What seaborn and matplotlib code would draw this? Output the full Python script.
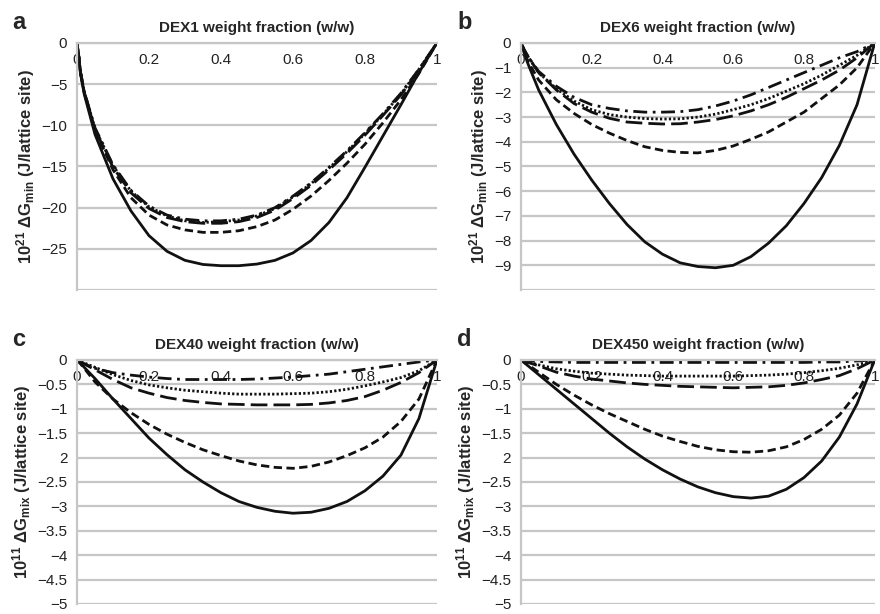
import matplotlib
matplotlib.use("Agg")
import matplotlib.pyplot as plt
import seaborn as sns
import pandas as pd

# weight fraction grid shared by every curve
W = [0, 0.01, 0.02, 0.05, 0.1, 0.15, 0.2, 0.25, 0.3, 0.35, 0.4, 0.45, 0.5,
     0.55, 0.6, 0.65, 0.7, 0.75, 0.8, 0.85, 0.9, 0.95, 1.0]

CURVES = ["solid", "dashed", "longdash", "dotted", "dashdot"]

# panel a - DEX1 (10^21 J/lattice site)
a_solid = [0, -3.8, -6.2, -11.1, -16.5, -20.4, -23.4, -25.3, -26.4, -26.9, -27.05, -27.05,
           -26.85, -26.4, -25.5, -24.0, -21.8, -18.8, -15.1, -11.3, -7.5, -3.6, 0]
a_dashed = [0, -3.7, -6.0, -10.6, -15.4, -18.8, -20.9, -22.1, -22.7, -23.0, -23.0, -22.8,
            -22.3, -21.5, -20.2, -18.6, -16.7, -14.6, -12.3, -9.7, -6.9, -3.7, 0]
a_longdash = [0, -3.6, -6.0, -10.5, -15.1, -18.2, -20.1, -21.2, -21.7, -21.9, -21.9, -21.7,
              -21.2, -20.3, -18.9, -17.3, -15.4, -13.4, -11.2, -8.8, -6.3, -3.3, 0]
a_dotted = [0, -3.6, -5.9, -10.4, -14.9, -18.0, -19.9, -21.0, -21.6, -21.8, -21.7, -21.5,
            -21.0, -20.1, -18.7, -17.1, -15.2, -13.2, -11.0, -8.7, -6.2, -3.2, 0]
a_dashdot = [0, -3.6, -5.9, -10.3, -14.8, -17.9, -19.8, -20.9, -21.4, -21.6, -21.6, -21.4,
             -20.9, -20.0, -18.6, -17.0, -15.1, -13.1, -10.9, -8.6, -6.1, -3.2, 0]

# panel b - DEX6 (10^21 J/lattice site)
b_solid = [0, -0.45, -0.85, -1.9, -3.3, -4.5, -5.55, -6.5, -7.35, -8.05, -8.55, -8.9,
           -9.05, -9.1, -9.0, -8.65, -8.1, -7.4, -6.5, -5.45, -4.15, -2.5, 0]
b_dashed = [0, -0.4, -0.75, -1.5, -2.3, -2.85, -3.3, -3.65, -3.95, -4.2, -4.35, -4.43,
            -4.45, -4.35, -4.17, -3.9, -3.6, -3.2, -2.8, -2.25, -1.7, -1.0, 0]
b_longdash = [0, -0.3, -0.55, -1.2, -1.9, -2.45, -2.8, -3.05, -3.2, -3.25, -3.28, -3.27,
              -3.2, -3.1, -2.95, -2.75, -2.5, -2.2, -1.85, -1.5, -1.1, -0.6, 0]
b_dotted = [0, -0.3, -0.55, -1.2, -1.85, -2.35, -2.7, -2.9, -3.0, -3.06, -3.08, -3.07,
            -3.0, -2.88, -2.7, -2.5, -2.25, -1.95, -1.65, -1.3, -0.9, -0.5, 0]
b_dashdot = [0, -0.3, -0.55, -1.15, -1.75, -2.2, -2.5, -2.65, -2.75, -2.8, -2.8, -2.78,
             -2.7, -2.55, -2.35, -2.1, -1.8, -1.5, -1.2, -0.9, -0.6, -0.35, 0]

# panel c - DEX40 (10^11 J/lattice site)
c_solid = [0, -0.07, -0.15, -0.38, -0.8, -1.2, -1.6, -1.94, -2.25, -2.5, -2.72, -2.9,
           -3.02, -3.1, -3.14, -3.12, -3.04, -2.9, -2.68, -2.38, -1.95, -1.2, 0]
c_dashed = [0, -0.08, -0.17, -0.45, -0.8, -1.08, -1.32, -1.52, -1.69, -1.84, -1.96, -2.07,
            -2.15, -2.2, -2.22, -2.18, -2.09, -1.96, -1.8, -1.58, -1.26, -0.8, 0]
c_longdash = [0, -0.04, -0.08, -0.2, -0.4, -0.57, -0.68, -0.77, -0.83, -0.87, -0.9, -0.91,
              -0.92, -0.92, -0.92, -0.91, -0.88, -0.83, -0.75, -0.62, -0.46, -0.26, 0]
c_dotted = [0, -0.03, -0.06, -0.15, -0.3, -0.42, -0.51, -0.57, -0.62, -0.65, -0.68, -0.7,
            -0.7, -0.7, -0.69, -0.68, -0.65, -0.6, -0.53, -0.45, -0.36, -0.22, 0]
c_dashdot = [0, -0.04, -0.08, -0.17, -0.26, -0.31, -0.35, -0.38, -0.4, -0.4, -0.4, -0.4,
             -0.39, -0.37, -0.35, -0.32, -0.29, -0.24, -0.19, -0.14, -0.09, -0.04, 0]

# panel d - DEX450 (10^11 J/lattice site)
d_solid = [0, -0.06, -0.12, -0.3, -0.6, -0.9, -1.2, -1.5, -1.78, -2.03, -2.25, -2.44,
           -2.6, -2.72, -2.8, -2.83, -2.79, -2.65, -2.41, -2.07, -1.58, -0.9, 0]
d_dashed = [0, -0.05, -0.1, -0.25, -0.5, -0.72, -0.92, -1.1, -1.26, -1.42, -1.56, -1.67,
            -1.77, -1.84, -1.88, -1.89, -1.86, -1.78, -1.63, -1.42, -1.13, -0.68, 0]
d_longdash = [0, -0.02, -0.05, -0.12, -0.25, -0.33, -0.39, -0.43, -0.47, -0.5, -0.52, -0.54,
              -0.55, -0.56, -0.57, -0.56, -0.55, -0.52, -0.47, -0.4, -0.32, -0.18, 0]
d_dotted = [0, -0.02, -0.04, -0.1, -0.18, -0.23, -0.27, -0.29, -0.31, -0.32, -0.33, -0.33,
            -0.33, -0.33, -0.33, -0.32, -0.31, -0.29, -0.26, -0.22, -0.17, -0.1, 0]
d_dashdot = [0, -0.01, -0.02, -0.03, -0.04, -0.05, -0.05, -0.05, -0.05, -0.05, -0.05, -0.05,
             -0.05, -0.05, -0.05, -0.05, -0.05, -0.05, -0.05, -0.04, -0.04, -0.02, 0]

X_TICKS = [0, 0.2, 0.4, 0.6, 0.8, 1]
X_LABELS = ["0", "0.2", "0.4", "0.6", "0.8", "1"]

a_yticks = [0, -5, -10, -15, -20, -25, -30]
a_ylabels = ["0", "\u22125", "\u221210", "\u221215", "\u221220", "\u221225", ""]
b_yticks = [0, -1, -2, -3, -4, -5, -6, -7, -8, -9, -10]
b_ylabels = ["0", "\u22121", "\u22122", "\u22123", "\u22124", "\u22125", "\u22126",
             "\u22127", "\u22128", "\u22129", ""]
cd_yticks = [0, -0.5, -1, -1.5, -2, -2.5, -3, -3.5, -4, -4.5, -5]
# the original prints "2" (no minus) at -2
cd_ylabels = ["0", "\u22120.5", "\u22121", "\u22121.5", "2", "\u22122.5", "\u22123",
              "\u22123.5", "\u22124", "\u22124.5", "\u22125"]

panels = [
    ("a", "DEX1 weight fraction (w/w)", r"$\mathbf{10^{21}\ \Delta G_{min}}$ (J/lattice site)",
     [a_solid, a_dashed, a_longdash, a_dotted, a_dashdot], a_yticks, a_ylabels),
    ("b", "DEX6 weight fraction (w/w)", r"$\mathbf{10^{21}\ \Delta G_{min}}$ (J/lattice site)",
     [b_solid, b_dashed, b_longdash, b_dotted, b_dashdot], b_yticks, b_ylabels),
    ("c", "DEX40 weight fraction (w/w)", r"$\mathbf{10^{11}\ \Delta G_{mix}}$ (J/lattice site)",
     [c_solid, c_dashed, c_longdash, c_dotted, c_dashdot], cd_yticks, cd_ylabels),
    ("d", "DEX450 weight fraction (w/w)", r"$\mathbf{10^{11}\ \Delta G_{mix}}$ (J/lattice site)",
     [d_solid, d_dashed, d_longdash, d_dotted, d_dashdot], cd_yticks, cd_ylabels),
]

DASHES = {"solid": "", "dashed": (3, 1.6), "longdash": (6, 2.2),
          "dotted": (0.8, 0.8), "dashdot": (5, 2, 1, 2)}

sns.set_style("white")
plt.rcParams.update({
    "font.family": ["Liberation Sans", "DejaVu Sans"],
    "mathtext.fontset": "custom",
    "mathtext.rm": "Liberation Sans",
    "mathtext.bf": "Liberation Sans:bold",
    "mathtext.it": "Liberation Sans:italic",
})

GRID = "#c6c6c6"
fig = plt.figure(figsize=(8.8, 6.14), dpi=100)
rects = [(0.0875, 0.5277, 0.409, 0.4023), (0.592, 0.5277, 0.402, 0.4023),
         (0.0875, 0.0163, 0.409, 0.3974), (0.592, 0.0163, 0.402, 0.3974)]

for rect, (letter, title, ylabel, series, yticks, ylabels) in zip(rects, panels):
    ax = fig.add_axes(rect)
    df = pd.concat([pd.DataFrame({"w": W, "dg": vals, "curve": name})
                    for name, vals in zip(CURVES, series)], ignore_index=True)
    sns.lineplot(data=df, x="w", y="dg", style="curve", dashes=DASHES, color="#111111",
                 linewidth=2.0, estimator=None, sort=False, legend=False, ax=ax)

    ax.set_xlim(0, 1)
    ax.set_ylim(min(yticks), 0)
    ax.set_yticks(yticks)
    ax.set_yticklabels(ylabels)
    ax.set_xticks(X_TICKS)
    ax.set_xticklabels(X_LABELS)
    ax.grid(axis="y", color=GRID, linewidth=1.6)
    ax.grid(axis="x", visible=False)
    ax.set_axisbelow(True)

    ax.spines["bottom"].set_position(("data", 0))
    ax.spines["bottom"].set_color(GRID)
    ax.spines["bottom"].set_linewidth(1.6)
    ax.spines["left"].set_color(GRID)
    ax.spines["left"].set_linewidth(1.6)
    ax.spines["top"].set_visible(False)
    ax.spines["right"].set_visible(False)
    ax.tick_params(axis="x", direction="in", length=3, width=1.2, color=GRID,
                   pad=7, labelsize=11, labelcolor="#222222")
    ax.tick_params(axis="y", direction="out", length=4, width=1.6, color=GRID,
                   pad=3, labelsize=11, labelcolor="#222222")

    ax.set_xlabel("")
    ax.set_ylabel(ylabel, fontsize=12, fontweight="bold", labelpad=3)
    ax.set_title(title, fontsize=11, fontweight="bold", pad=8)
    ax.text(-0.18, 1.035, letter, transform=ax.transAxes, fontsize=17,
            fontweight="bold", ha="left", va="bottom")

fig.savefig("out.png", dpi=100)
plt.close(fig)
